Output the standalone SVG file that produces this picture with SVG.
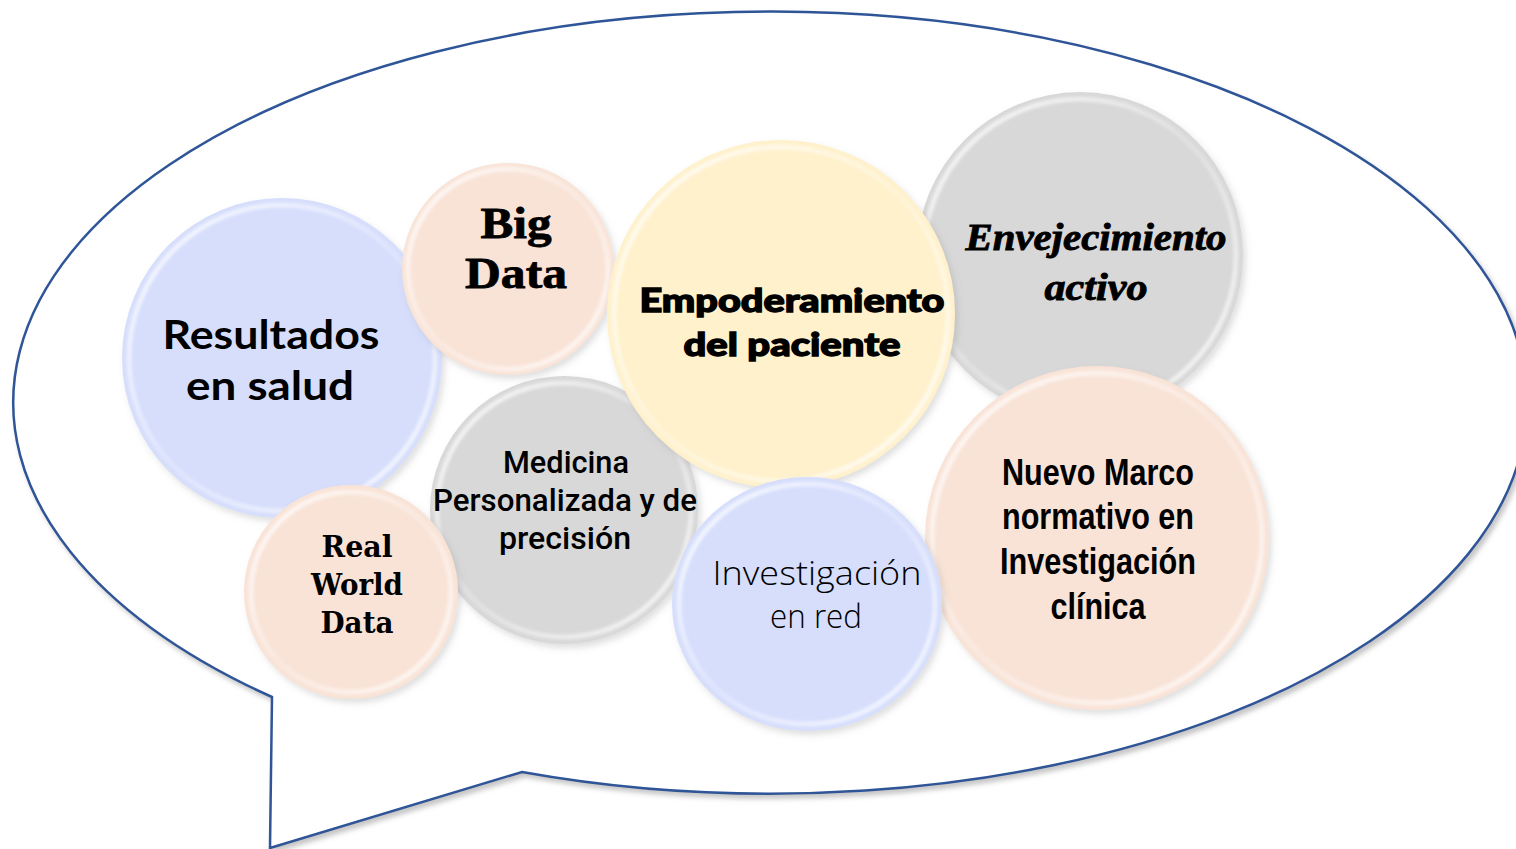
<svg xmlns="http://www.w3.org/2000/svg" width="1516" height="849" viewBox="0 0 1516 849">
  <defs>
    <filter id="bubbleShadow" x="-5%" y="-5%" width="110%" height="115%">
      <feDropShadow dx="3" dy="4" stdDeviation="2.5" flood-color="#808080" flood-opacity="0.45"/>
    </filter>
    <filter id="circleShadow" x="-10%" y="-10%" width="125%" height="125%">
      <feDropShadow dx="3" dy="4" stdDeviation="3" flood-color="#7f7f7f" flood-opacity="0.25"/>
    </filter>
    <filter id="rimBlur" x="-10%" y="-10%" width="120%" height="120%">
      <feGaussianBlur stdDeviation="1.8"/>
    </filter>
    <linearGradient id="rimGrad" x1="0" y1="0" x2="1" y2="1">
      <stop offset="0" stop-color="#ffffff" stop-opacity="0.85"/>
      <stop offset="0.5" stop-color="#ffffff" stop-opacity="0.2"/>
      <stop offset="1" stop-color="#ffffff" stop-opacity="0.8"/>
    </linearGradient>
  </defs>
  <style>
    .bubble { fill: #ffffff; stroke: #2F5597; stroke-width: 2.5; }
    .blue { fill: #D6DEFC; }
    .peach { fill: #F9E3D7; }
    .yellow { fill: #FFF1CC; }
    .gray { fill: #D8D8D8; }
    .base { filter: url(#circleShadow); }
    .rim { fill: none; stroke: url(#rimGrad); stroke-width: 5; filter: url(#rimBlur); }
    text { fill: #000000; text-anchor: middle; }
    .t-res { font-family: "Lato", "Liberation Sans", sans-serif; font-weight: 700; font-size: 41px; }
    .t-big { font-family: "Liberation Serif", "DejaVu Serif", serif; font-weight: 700; font-size: 44px; stroke: #000; stroke-width: 0.8; }
    .t-emp { font-family: "Lato", "DejaVu Sans", sans-serif; font-weight: 900; font-size: 33px; stroke: #000; stroke-width: 1.4; }
    .t-env { font-family: "Liberation Serif", "DejaVu Serif", serif; font-weight: 700; font-style: italic; font-size: 38px; stroke: #000; stroke-width: 0.9; }
    .t-med { font-family: "Roboto", "Liberation Sans", sans-serif; font-weight: 500; font-size: 31px; }
    .t-rwd { font-family: "DejaVu Serif", "Liberation Serif", serif; font-weight: 700; font-size: 29px; }
    .t-inv { font-family: "Open Sans", "DejaVu Sans", sans-serif; font-weight: 300; font-size: 33px; }
    .t-nue { font-family: "Liberation Sans Narrow", "Liberation Sans", sans-serif; font-weight: 700; font-size: 37px; }
  </style>

  <g id="bubble">
    <path class="bubble" filter="url(#bubbleShadow)" d="M 272 697 L 270 848 L 522 772 A 757 391 0 1 0 272 697 Z"/>
  </g>

  <g id="connectors"></g>

  <g id="node-resultados">
    <circle class="blue base" cx="282" cy="358" r="160"/>
    <circle class="rim" cx="282" cy="358" r="153"/>
    <text class="t-res" x="271" y="349" textLength="217" lengthAdjust="spacingAndGlyphs">Resultados</text>
    <text class="t-res" x="270" y="400" textLength="168" lengthAdjust="spacingAndGlyphs">en salud</text>
  </g>

  <g id="node-bigdata">
    <circle class="peach base" cx="508" cy="269" r="106"/>
    <circle class="rim" cx="508" cy="269" r="100"/>
    <text class="t-big" x="516" y="238" textLength="71" lengthAdjust="spacingAndGlyphs">Big</text>
    <text class="t-big" x="516" y="288" textLength="102" lengthAdjust="spacingAndGlyphs">Data</text>
  </g>

  <g id="node-medicina">
    <circle class="gray base" cx="564" cy="510" r="134"/>
    <circle class="rim" cx="564" cy="510" r="127"/>
    <text class="t-med" x="566" y="473" textLength="126" lengthAdjust="spacingAndGlyphs">Medicina</text>
    <text class="t-med" x="565" y="511" textLength="264" lengthAdjust="spacingAndGlyphs">Personalizada y de</text>
    <text class="t-med" x="565" y="549" textLength="132" lengthAdjust="spacingAndGlyphs">precisión</text>
  </g>

  <g id="node-realworld">
    <circle class="peach base" cx="351" cy="592" r="107"/>
    <circle class="rim" cx="351" cy="592" r="100"/>
    <text class="t-rwd" x="357" y="557" textLength="71" lengthAdjust="spacingAndGlyphs">Real</text>
    <text class="t-rwd" x="357" y="595" textLength="92" lengthAdjust="spacingAndGlyphs">World</text>
    <text class="t-rwd" x="357" y="633" textLength="73" lengthAdjust="spacingAndGlyphs">Data</text>
  </g>

  <g id="node-envejecimiento">
    <circle class="gray base" cx="1080" cy="255" r="163"/>
    <circle class="rim" cx="1080" cy="255" r="156"/>
    <text class="t-env" x="1096" y="250" textLength="261" lengthAdjust="spacingAndGlyphs">Envejecimiento</text>
    <text class="t-env" x="1096" y="300" textLength="103" lengthAdjust="spacingAndGlyphs">activo</text>
  </g>

  <g id="node-nuevo">
    <circle class="peach base" cx="1097" cy="538" r="172"/>
    <circle class="rim" cx="1097" cy="538" r="165"/>
    <text class="t-nue" x="1098" y="485" textLength="192" lengthAdjust="spacingAndGlyphs">Nuevo Marco</text>
    <text class="t-nue" x="1098" y="529" textLength="192" lengthAdjust="spacingAndGlyphs">normativo en</text>
    <text class="t-nue" x="1098" y="574" textLength="196" lengthAdjust="spacingAndGlyphs">Investigación</text>
    <text class="t-nue" x="1098" y="619" textLength="95" lengthAdjust="spacingAndGlyphs">clínica</text>
  </g>

  <g id="node-empoderamiento">
    <circle class="yellow base" cx="781" cy="314" r="174"/>
    <circle class="rim" cx="781" cy="314" r="167"/>
    <text class="t-emp" x="792" y="312" textLength="305" lengthAdjust="spacingAndGlyphs">Empoderamiento</text>
    <text class="t-emp" x="792" y="356" textLength="217" lengthAdjust="spacingAndGlyphs">del paciente</text>
  </g>

  <g id="node-investigacion">
    <ellipse class="blue base" cx="807" cy="604" rx="135" ry="127"/>
    <ellipse class="rim" cx="807" cy="604" rx="128" ry="120"/>
    <text class="t-inv" x="817" y="585" textLength="209" lengthAdjust="spacingAndGlyphs">Investigación</text>
    <text class="t-inv" x="816" y="628" textLength="92" lengthAdjust="spacingAndGlyphs">en red</text>
  </g>
</svg>
